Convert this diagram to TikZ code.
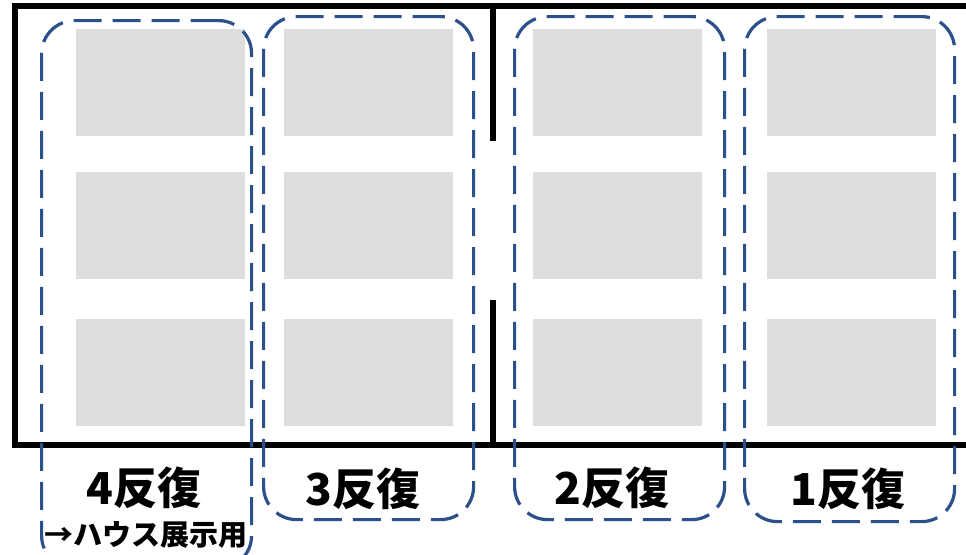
\documentclass[tikz,border=0pt]{standalone}
\usepackage{fontspec}
\newfontfamily\jp{Noto Sans CJK JP}
\definecolor{cellgray}{RGB}{221,221,221}
\definecolor{grpblue}{RGB}{44,80,140}
\tikzset{
  cell/.style={fill=cellgray, draw=none, minimum width=169pt, minimum height=107pt, anchor=north west, inner sep=0pt},
  grp/.style={draw=grpblue, line width=3.2pt, dash pattern=on 28pt off 11pt, rounded corners=33pt, minimum width=210pt, anchor=north west, inner sep=0pt},
  wall/.style={line width=6pt, black},
  lbl/.style={font=\jp\bfseries\fontsize{44}{46}\selectfont, inner sep=0pt},
  sublbl/.style={font=\jp\bfseries\fontsize{29}{31}\selectfont, inner sep=0pt}
}
\begin{document}
\begin{tikzpicture}[x=1pt,y=-1pt]
\clip (0,0) rectangle (966,554);
\fill[white] (0,0) rectangle (966,554);
% gray cells
\foreach \cx/\c in {76/a,284/b,533/c,767/d}{
  \foreach \ry/\r in {29/1,172/2,319/3}{
    \node[cell] (cell\c\r) at (\cx,\ry) {};
  }
}
% walls
\coordinate (tl) at (15,6);
\coordinate (tr) at (970,6);
\coordinate (bl) at (15,445);
\coordinate (br) at (970,445);
\coordinate (wt) at (493,6);
\coordinate (wt2) at (493,141);
\coordinate (wb) at (493,300);
\coordinate (wb2) at (493,445);
\draw[wall, line join=miter] (tr) -- (tl) -- (bl) -- (br);
\draw[wall] (wt) -- (wt2);
\draw[wall] (wb) -- (wb2);
% groups
\node[grp, minimum height=548pt] (g4) at (40,19) {};
\node[grp, minimum height=503pt] (g3) at (262,15) {};
\node[grp, minimum height=503pt] (g2) at (513,15) {};
\node[grp, minimum height=505pt] (g1) at (743,15) {};
% labels
\node[lbl] (l4) at (144,488) {4反復};
\node[lbl] (l3) at (363,489) {3反復};
\node[lbl] (l2) at (612,488) {2反復};
\node[lbl] (l1) at (848,489) {1反復};
\node[sublbl] (s4) at (146,535) {→ハウス展示用};
\end{tikzpicture}
\end{document}
